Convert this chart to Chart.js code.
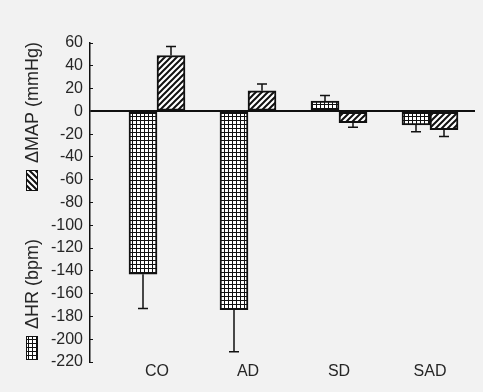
<!DOCTYPE html>
<html><head><meta charset="utf-8">
<script src="https://cdn.jsdelivr.net/npm/chart.js@4"></script>
<style>html,body{margin:0;padding:0;background:#f2f2f2;overflow:hidden;}</style>
</head><body>
<canvas id="c" width="483" height="392"></canvas>
<script>
// ---- data ----
const categories = ['CO', 'AD', 'SD', 'SAD'];
const categoryPositions = [1, 2, 3, 4];
const hrValues = [-143, -174, 9, -12];
const hrErrors = [30, 37, 5, 6];
const mapValues = [49, 18, -10, -16];
const mapErrors = [8, 6, 4, 6];
const yTicks = [60, 40, 20, 0, -20, -40, -60, -80, -100, -120, -140, -160, -180, -200, -220];
const seriesLabels = ['\u0394HR (bpm)', '\u0394MAP (mmHg)'];

// ---- patterns ----
function gridPattern() {
  const c = document.createElement('canvas'); c.width = 4; c.height = 4;
  const g = c.getContext('2d');
  g.fillStyle = '#fff'; g.fillRect(0, 0, 4, 4);
  g.fillStyle = '#111'; g.fillRect(0, 0, 4, 1); g.fillRect(0, 0, 1, 4);
  return g.createPattern(c, 'repeat');
}
function hatchPattern() {
  const s = 6;
  const c = document.createElement('canvas'); c.width = s; c.height = s;
  const g = c.getContext('2d');
  g.fillStyle = '#fff'; g.fillRect(0, 0, s, s);
  g.strokeStyle = '#111'; g.lineWidth = 2;
  g.beginPath();
  g.moveTo(0, s); g.lineTo(s, 0);
  g.moveTo(-1, 1); g.lineTo(1, -1);
  g.moveTo(s - 1, s + 1); g.lineTo(s + 1, s - 1);
  g.stroke();
  return g.createPattern(c, 'repeat');
}
const patGrid = gridPattern();
const patHatch = hatchPattern();

const textColor = '#262626';
const fontFamily = "'Liberation Sans', Arial, sans-serif";

// ---- plugins ----
const bgPlugin = {
  id: 'bg',
  beforeDraw(chart) {
    const ctx = chart.ctx; ctx.save(); ctx.fillStyle = '#f2f2f2';
    ctx.fillRect(0, 0, chart.width, chart.height); ctx.restore();
  }
};
const errorBars = {
  id: 'errorBars',
  afterDatasetsDraw(chart) {
    const ctx = chart.ctx, ys = chart.scales.y;
    chart.data.datasets.forEach((ds, i) => {
      const meta = chart.getDatasetMeta(i);
      meta.data.forEach((bar, j) => {
        const v = ds.data[j].y, e = ds.errors[j];
        const end = ys.getPixelForValue(v + Math.sign(v) * e);
        ctx.save(); ctx.strokeStyle = '#111'; ctx.lineWidth = 1.5;
        ctx.beginPath();
        ctx.moveTo(bar.x, bar.y); ctx.lineTo(bar.x, end);
        ctx.moveTo(bar.x - 5, end); ctx.lineTo(bar.x + 5, end);
        ctx.stroke(); ctx.restore();
      });
    });
  }
};
const axisLegend = {
  id: 'axisLegend',
  afterDraw(chart) {
    const ctx = chart.ctx;
    const items = [
      { text: seriesLabels[1], pat: patHatch, bottom: 191, sw: 21 },
      { text: seriesLabels[0], pat: patGrid, bottom: 360, sw: 24 }
    ];
    items.forEach(it => {
      ctx.save();
      ctx.translate(32, it.bottom);
      ctx.rotate(-Math.PI / 2);
      ctx.fillStyle = it.pat; ctx.fillRect(0, -6, it.sw, 12);
      ctx.strokeStyle = '#111'; ctx.lineWidth = 1; ctx.strokeRect(0.5, -5.5, it.sw - 1, 11);
      ctx.fillStyle = textColor; ctx.font = '18px ' + fontFamily;
      ctx.textAlign = 'left'; ctx.textBaseline = 'middle';
      ctx.fillText(it.text, it.sw + 7, 1);
      ctx.restore();
    });
  }
};

const toXY = (vals) => vals.map((v, i) => ({ x: categoryPositions[i], y: v }));

new Chart(document.getElementById('c'), {
  type: 'bar',
  data: {
    datasets: [
      { label: seriesLabels[0], data: toXY(hrValues), errors: hrErrors, backgroundColor: patGrid,
        borderColor: '#111', borderWidth: 2, borderSkipped: false, barThickness: 28 },
      { label: seriesLabels[1], data: toXY(mapValues), errors: mapErrors, backgroundColor: patHatch,
        borderColor: '#111', borderWidth: 2, borderSkipped: false, barThickness: 28 }
    ]
  },
  options: {
    responsive: false, animation: false, devicePixelRatio: 1,
    layout: { padding: { left: 0, top: 43, right: 8, bottom: 10 } },
    plugins: { legend: { display: false }, tooltip: { enabled: false } },
    scales: {
      x: {
        type: 'linear', offset: false, min: 0.2637, max: 4.4945,
        grid: { display: false, drawTicks: false },
        border: { display: false },
        afterBuildTicks: s => { s.ticks = categoryPositions.map(v => ({ value: v })); },
        afterFit: s => { s.height = 20; },
        ticks: { autoSkip: false, maxRotation: 0, padding: 0, color: textColor,
          font: { family: fontFamily, size: 16 },
          callback: v => categories[categoryPositions.indexOf(v)] }
      },
      y: {
        min: -220, max: 60,
        afterBuildTicks: s => { s.ticks = yTicks.map(v => ({ value: v })); },
        afterFit: s => { s.width = 90; },
        grid: {
          color: c => (c.tick && c.tick.value === 0) ? '#111' : 'rgba(0,0,0,0)',
          lineWidth: c => (c.tick && c.tick.value === 0) ? 2 : 1,
          tickColor: '#111', tickLength: -3, tickWidth: 1
        },
        border: { display: true, color: '#111', width: 1.5 },
        ticks: { padding: 10, color: textColor, font: { family: fontFamily, size: 16 } }
      }
    }
  },
  plugins: [bgPlugin, errorBars, axisLegend]
});
</script>
</body></html>
